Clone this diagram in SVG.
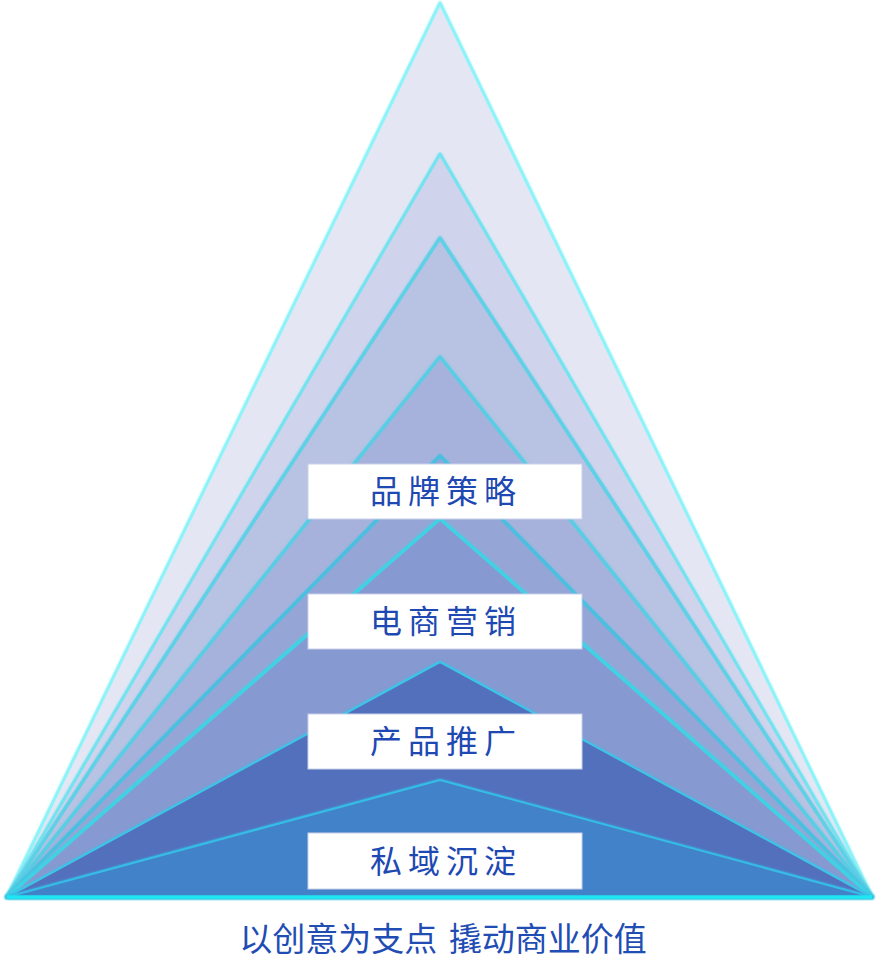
<svg xmlns="http://www.w3.org/2000/svg" width="877" height="979" viewBox="0 0 877 979">
<defs>
<filter id="glow" x="-5%" y="-5%" width="110%" height="110%">
<feGaussianBlur in="SourceGraphic" stdDeviation="1.2" result="b"/>
<feMerge><feMergeNode in="b"/><feMergeNode in="SourceGraphic"/></feMerge>
</filter>
<style>
.tri{stroke-linejoin:round;filter:url(#glow)}
.box{fill:#ffffff;stroke:#c9d0ea;stroke-width:1}
.lbl{font-family:"Noto Sans CJK SC","Noto Sans CJK JP",sans-serif;font-size:32px;font-weight:400;fill:#1e48b2;text-anchor:middle;letter-spacing:6px}
.cap{font-family:"Noto Sans CJK SC","Noto Sans CJK JP",sans-serif;font-size:33px;font-weight:400;fill:#1f4db4;text-anchor:middle;word-spacing:4px}
</style>
</defs>
<g id="pyramid">
<polygon id="t1" class="tri" points="440,3 872,897 7,897" fill="#e4e7f3" stroke="#8ef3f8" stroke-width="3"/>
<polygon id="t2" class="tri" points="440,154 872,897 7,897" fill="#d0d3ec" stroke="#74e2ef" stroke-width="3"/>
<polygon id="t3" class="tri" points="440,238 872,897 7,897" fill="#b8c2e2" stroke="#5fd0e6" stroke-width="3.5"/>
<polygon id="t4" class="tri" points="440,357 872,897 7,897" fill="#a7b2dc" stroke="#58cde4" stroke-width="3.5"/>
<polygon id="t5" class="tri" points="440,456 872,897 7,897" fill="#95a6d6" stroke="#4bbfe0" stroke-width="3.5"/>
<polygon id="t6" class="tri" points="440,519 872,897 7,897" fill="#8699d1" stroke="#3fd2e4" stroke-width="3.5"/>
<polygon id="t7" class="tri" points="440,662 872,897 7,897" fill="#526fbd" stroke="#3cc4e6" stroke-width="2"/>
<polygon id="t8" class="tri" points="440,780 872,897 7,897" fill="#4282c8" stroke="#35bde6" stroke-width="2"/>
<line id="base" x1="7" y1="897" x2="872" y2="897" stroke="#1ee6f2" stroke-width="3.5"/>
</g>
<g id="n1">
<rect class="box" x="308" y="464" width="274" height="55"/>
<text class="lbl" x="446" y="503">品牌策略</text>
</g>
<g id="n2">
<rect class="box" x="308" y="594" width="274" height="55"/>
<text class="lbl" x="446" y="633">电商营销</text>
</g>
<g id="n3">
<rect class="box" x="308" y="714" width="274" height="55"/>
<text class="lbl" x="446" y="753">产品推广</text>
</g>
<g id="n4">
<rect class="box" x="308" y="833" width="274" height="56"/>
<text class="lbl" x="446" y="873">私域沉淀</text>
</g>
<g id="caption">
<text class="cap" x="443" y="951">以创意为支点 撬动商业价值</text>
</g>
</svg>
